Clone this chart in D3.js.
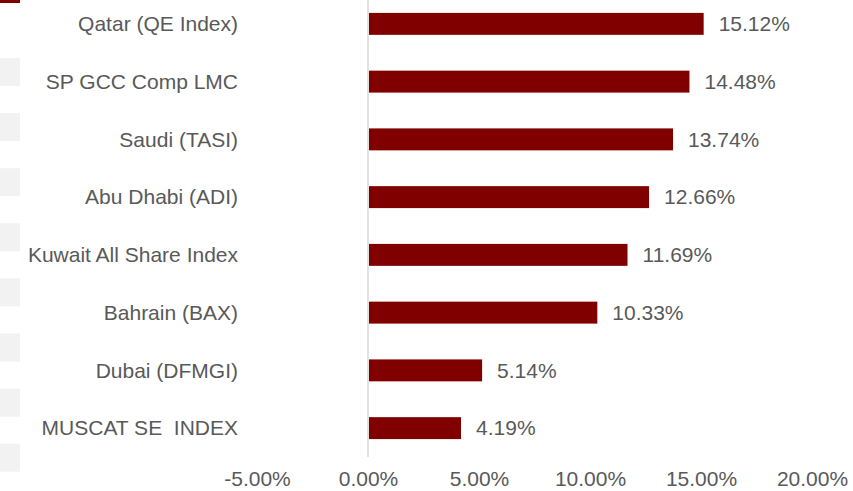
<!DOCTYPE html>
<html>
<head>
<meta charset="utf-8">
<script src="https://cdn.jsdelivr.net/npm/d3@7"></script>
<style>
  body { margin: 0; background: #fff; }
  svg { display: block; }
</style>
</head>
<body>
<script>
// data
var categories = ["Qatar (QE Index)", "SP GCC Comp LMC", "Saudi (TASI)", "Abu Dhabi (ADI)",
                  "Kuwait All Share Index", "Bahrain (BAX)", "Dubai (DFMGI)", "MUSCAT SE  INDEX"];
var returns = [15.12, 14.48, 13.74, 12.66, 11.69, 10.33, 5.14, 4.19];
var tickValues = [-5, 0, 5, 10, 15, 20];

var width = 853, height = 491;
var textColor = "#595959";
var barColor = "#800000";
var fontFamily = "'Liberation Sans', Arial, sans-serif";
var fontSize = "21px";

var svg = d3.select("body").append("svg")
    .attr("width", width)
    .attr("height", height);

// the cropped edge pieces on the left side of the original
svg.append("rect")
    .attr("x", 0).attr("y", 0)
    .attr("width", 20).attr("height", 3)
    .attr("fill", barColor);
d3.range(8).forEach(function(i) {
    svg.append("rect")
        .attr("x", 0).attr("y", 58 + i * 55.1)
        .attr("width", 20).attr("height", 28)
        .attr("fill", "#f2f2f2");
});

var x = d3.scaleLinear()
    .domain([-5, 20])
    .range([257, 812]);

var y = d3.scaleBand()
    .domain(categories)
    .range([-5, 457])
    .paddingInner(0.62)
    .paddingOuter(0.31);

// zero line
svg.append("line")
    .attr("x1", x(0)).attr("x2", x(0))
    .attr("y1", 0).attr("y2", 457)
    .attr("stroke", "#d9d9d9")
    .attr("stroke-width", 1.5);

svg.selectAll("rect.bar")
    .data(returns)
    .enter()
    .append("rect")
    .attr("class", "bar")
    .attr("x", x(0) + 1)
    .attr("y", (d, i) => y(categories[i]))
    .attr("width", d => x(d) - x(0) - 1)
    .attr("height", y.bandwidth())
    .attr("fill", barColor);

svg.selectAll("text.value")
    .data(returns)
    .enter()
    .append("text")
    .attr("class", "value")
    .attr("x", d => x(d) + 15)
    .attr("y", (d, i) => y(categories[i]) + y.bandwidth() / 2)
    .attr("dy", "0.35em")
    .attr("fill", textColor)
    .attr("font-family", fontFamily)
    .attr("font-size", fontSize)
    .text(d => d.toFixed(2) + "%");

svg.selectAll("text.cat")
    .data(categories)
    .enter()
    .append("text")
    .attr("class", "cat")
    .attr("x", 238)
    .attr("y", d => y(d) + y.bandwidth() / 2)
    .attr("dy", "0.35em")
    .attr("text-anchor", "end")
    .attr("fill", textColor)
    .attr("font-family", fontFamily)
    .attr("font-size", fontSize)
    .style("white-space", "pre")
    .text(d => d);

var xAxis = d3.axisBottom(x)
    .tickValues(tickValues)
    .tickSize(0)
    .tickPadding(0)
    .tickFormat(d => d.toFixed(2) + "%");

var axisG = svg.append("g")
    .attr("transform", "translate(0,471)")
    .call(xAxis);
axisG.select(".domain").remove();
axisG.selectAll("text")
    .attr("fill", textColor)
    .attr("font-family", fontFamily)
    .attr("font-size", fontSize);
</script>
</body>
</html>
